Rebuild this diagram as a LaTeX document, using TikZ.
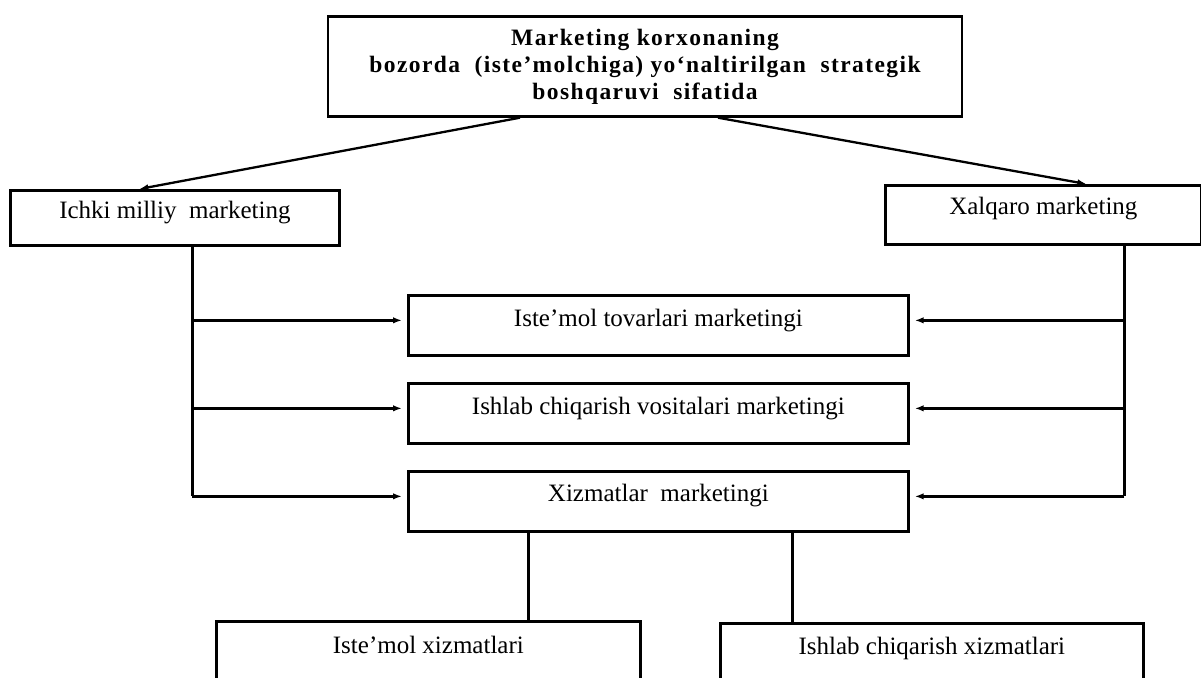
\documentclass[tikz,border=0pt]{standalone}
\usepackage{fontspec}
\setmainfont{Liberation Serif}
\usetikzlibrary{arrows.meta,calc}

\begin{document}
\begin{tikzpicture}[x=1pt,y=-1pt,
  box/.style={draw,line width=2.7pt,rectangle,inner xsep=0pt,inner ysep=0pt,
              font=\fontsize{25}{29}\selectfont},
  link/.style={line width=2.3pt},
  arr/.style={link,-{Latex[length=9pt,width=6.5pt]}},
  sidearr/.style={arr,shorten >=5pt}
]
\useasboundingbox (0,0) rectangle (1201,677);
\clip (0,0) rectangle (1201,677);

% heading box
\node[box,anchor=north,minimum width=634pt,minimum height=100pt,align=center,
      font=\fontsize{23.5}{27}\selectfont\bfseries\addfontfeatures{LetterSpace=6}]
  (top) at (645,15)
  {Marketing korxonaning\\ bozorda\ \ (iste’molchiga) yo‘naltirilgan\ \ strategik\\ boshqaruvi\ \ sifatida};

% the two kinds of marketing
\node[box,anchor=north west,minimum width=329pt,text height=28pt,text depth=27pt]
  (ichki) at (9,189) {Ichki milliy\ \ marketing};
\node[box,anchor=north west,minimum width=316pt,text height=29pt,text depth=30pt]
  (xalqaro) at (884,184) {Xalqaro marketing};

% branches in the middle
\node[box,anchor=north west,minimum width=500pt,text height=31pt,text depth=29pt]
  (m1) at (407,294) {Iste’mol tovarlari marketingi};
\node[box,anchor=north west,minimum width=500pt,text height=31pt,text depth=29pt]
  (m2) at (407,382) {Ishlab chiqarish vositalari marketingi};
\node[box,anchor=north west,minimum width=500pt,text height=30pt,text depth=30pt]
  (m3) at (407,470) {Xizmatlar\ \ marketingi};

% services
\node[box,anchor=north west,minimum width=424pt,text height=32pt,text depth=60pt]
  (b1) at (215,620) {Iste’mol xizmatlari};
\node[box,anchor=north west,minimum width=423pt,text height=31pt,text depth=60pt]
  (b2) at (719,622) {Ishlab chiqarish xizmatlari};

% from the heading down to both kinds
\draw[arr] ([xshift=-125pt]top.south) -- ([xshift=-35.5pt]ichki.north);
\draw[arr] ([xshift=73pt]top.south) -- ([xshift=43pt]xalqaro.north);

% spines and side arrows
\coordinate (ls) at ([xshift=17.5pt]ichki.south);
\coordinate (rs) at ([xshift=81pt]xalqaro.south);
\foreach \m in {m1,m2,m3}{
  \coordinate (\m w) at ([yshift=5pt]\m.west);
  \coordinate (\m e) at ([yshift=5pt]\m.east);
  \draw[sidearr] (ls |- \m w) -- (\m w);
  \draw[sidearr] (rs |- \m e) -- (\m e);
}
\draw[link] (ls) -- (ls |- m3w);
\draw[link] (rs) -- (rs |- m3e);

% services split
\draw[link] ([xshift=-130pt]m3.south) -- ([xshift=-130pt]m3.south |- b1.north);
\draw[link] ([xshift=134pt]m3.south) -- ([xshift=134pt]m3.south |- b2.north);
\end{tikzpicture}
\end{document}
